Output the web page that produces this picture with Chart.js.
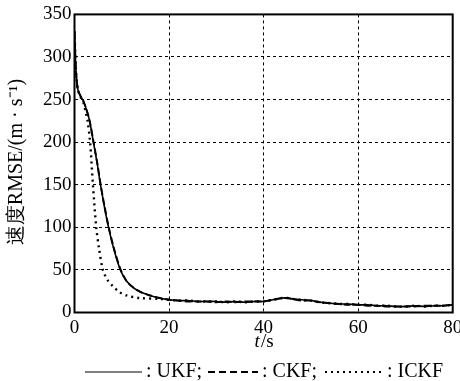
<!DOCTYPE html>
<html>
<head>
<meta charset="utf-8">
<script src="https://cdn.jsdelivr.net/npm/chart.js@4.4.1/dist/chart.umd.min.js"></script>
<style>
  html, body { margin: 0; padding: 0; background: #fff; }
  #wrap { width: 460px; height: 381px; position: relative; }
</style>
</head>
<body>
<div id="wrap"><canvas id="rmseChart" width="460" height="381"></canvas></div>
<script>
'use strict';

// ─────────────────────────────────────────────
// 1. DATA (t in s, velocity RMSE in m/s)
// ─────────────────────────────────────────────
const tUKF   = [0, 0.3, 0.7, 1.2, 1.9, 2.6, 3.2, 4.0, 4.8, 5.5, 6.3, 7.2, 8.3, 9.7, 11, 12.5, 14, 16, 18, 20,
                22, 24, 26, 28, 30, 32, 34, 36, 38, 40, 42, 44, 45, 46, 48, 50, 52, 54, 56, 58, 60,
                62, 64, 66, 68, 70, 72, 74, 76, 78, 80];
const vUKF   = [330, 285, 262, 255, 248, 237, 225, 200, 175, 150, 125, 100, 75, 50, 37, 29, 24, 20, 17, 15,
                14, 14, 13, 13, 13, 12, 13, 12, 13, 13, 15, 17, 17, 16, 15, 14, 12, 11, 10, 10, 9,
                9, 8, 8, 7, 7, 8, 7, 8, 8, 9];
const vCKF   = [330, 284, 262, 255, 248, 237, 225, 201, 176, 151, 126, 101, 76, 51, 37, 29, 24, 20, 17, 15,
                14, 13, 13, 13, 12, 13, 12, 13, 13, 13, 15, 17, 17, 16, 14, 14, 12, 11, 10, 9, 9,
                8, 8, 7, 7, 7, 7, 8, 8, 8, 9];
const tICKF  = [0, 0.3, 0.7, 1.2, 1.9, 2.5, 2.8, 3.3, 3.9, 4.6, 5.2, 6.0, 7.0, 8.1, 9.5, 11, 13.8, 18, 20];
const vICKF  = [330, 285, 262, 254, 246, 232, 224, 200, 150, 100, 75, 50, 38, 31, 24, 20, 17, 16, 15];

const yTicks = [0, 50, 100, 150, 200, 250, 300, 350];
const xTicks = [0, 20, 40, 60, 80];
const legendNames = [': UKF;', ': CKF;', ': ICKF'];

const pts = (xs, ys) => xs.map((x, i) => ({ x, y: ys[i] }));
// ICKF joins UKF after 20 s
const ickfPts = pts(tICKF, vICKF).concat(pts(tUKF, vUKF).filter(p => p.x > 20));

const SERIF = '"Liberation Serif", "Times New Roman", serif';

// ─────────────────────────────────────────────
// 2. FRAME / TITLES / LEGEND PLUGIN
// ─────────────────────────────────────────────
const decorPlugin = {
  id: 'decor',
  afterDraw(chart) {
    const { ctx, chartArea: a } = chart;
    ctx.save();
    // frame
    ctx.strokeStyle = '#000';
    ctx.lineWidth = 2;
    ctx.setLineDash([]);
    ctx.strokeRect(a.left, a.top, a.right - a.left, a.bottom - a.top);

    ctx.fillStyle = '#000';
    // x title: t/s
    ctx.textBaseline = 'alphabetic';
    ctx.font = 'italic 19px ' + SERIF;
    const tW = ctx.measureText('t').width;
    ctx.font = '19px ' + SERIF;
    const sW = ctx.measureText('/s').width;
    const cx = (a.left + a.right) / 2;
    const x0 = cx - (tW + sW) / 2;
    ctx.font = 'italic 19px ' + SERIF;
    ctx.textAlign = 'left';
    ctx.fillText('t', x0, 347);
    ctx.font = '19px ' + SERIF;
    ctx.fillText('/s', x0 + tW + 1, 347);

    // y title
    ctx.save();
    ctx.translate(22, 162);
    ctx.rotate(-Math.PI / 2);
    ctx.textAlign = 'center';
    ctx.font = '20px ' + SERIF;
    ctx.fillText('速度RMSE/(m · s⁻¹)', 0, 0);
    ctx.restore();

    // legend
    const ly = 372;
    const items = [
      { x1: 85, x2: 142, dash: [], width: 1.2, tx: 146 },
      { x1: 208, x2: 258, dash: [7, 4], width: 2.2, tx: 262 },
      { x1: 325, x2: 383, dash: [2, 4], width: 2.2, tx: 387 },
    ];
    items.forEach((it, i) => {
      ctx.beginPath();
      ctx.setLineDash(it.dash);
      ctx.lineWidth = it.width;
      ctx.moveTo(it.x1, ly);
      ctx.lineTo(it.x2, ly);
      ctx.stroke();
      ctx.setLineDash([]);
      ctx.font = '20px ' + SERIF;
      ctx.textAlign = 'left';
      ctx.fillText(legendNames[i], it.tx, 377);
    });
    ctx.restore();
  },
};

// ─────────────────────────────────────────────
// 3. CHART
// ─────────────────────────────────────────────
new Chart(document.getElementById('rmseChart').getContext('2d'), {
  type: 'line',
  data: {
    datasets: [
      {
        label: 'UKF',
        data: pts(tUKF, vUKF),
        borderColor: '#000',
        borderWidth: 1.6,
        pointRadius: 0,
        tension: 0.3,
      },
      {
        label: 'CKF',
        data: pts(tUKF, vCKF),
        borderColor: '#000',
        borderWidth: 2,
        borderDash: [7, 3],
        pointRadius: 0,
        tension: 0.3,
      },
      {
        label: 'ICKF',
        data: ickfPts,
        borderColor: '#000',
        borderWidth: 2.4,
        borderDash: [2, 4],
        pointRadius: 0,
        tension: 0.3,
      },
    ],
  },
  options: {
    responsive: false,
    animation: false,
    layout: { padding: { left: 0, top: 14, right: 0, bottom: 0 } },
    plugins: { legend: { display: false }, tooltip: { enabled: false } },
    scales: {
      x: {
        type: 'linear',
        min: 0,
        max: 80,
        afterBuildTicks: (s) => { s.ticks = xTicks.map(v => ({ value: v })); },
        afterFit: (s) => { s.height = 68.5; s.paddingRight = 7.3; s.paddingLeft = 0; },
        grid: {
          color: (c) => (c.tick && (c.tick.value === 0 || c.tick.value === 80)) ? 'rgba(0,0,0,0)' : '#000',
          lineWidth: 1,
          drawTicks: false,
        },
        border: { display: false, dash: [3, 3] },
        ticks: { color: '#000', font: { family: SERIF, size: 19 }, padding: 4, maxRotation: 0 },
      },
      y: {
        min: 0,
        max: 350,
        afterBuildTicks: (s) => { s.ticks = yTicks.map(v => ({ value: v })); },
        afterFit: (s) => { s.width = 74.5; },
        grid: {
          color: (c) => (c.tick && (c.tick.value === 0 || c.tick.value === 350)) ? 'rgba(0,0,0,0)' : '#000',
          lineWidth: 1,
          drawTicks: false,
        },
        border: { display: false, dash: [3, 3] },
        ticks: { color: '#000', font: { family: SERIF, size: 19 }, padding: 3 },
      },
    },
  },
  plugins: [decorPlugin],
});
</script>
</body>
</html>
